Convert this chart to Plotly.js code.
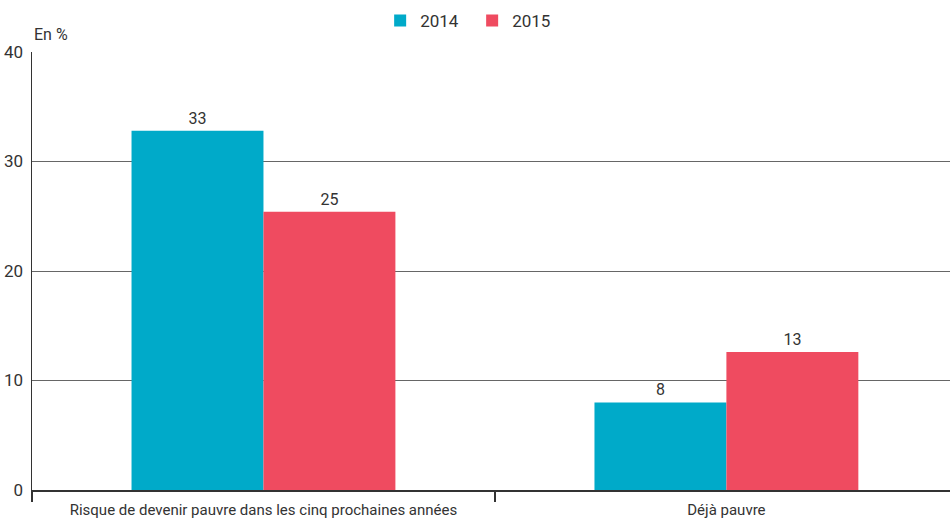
<!DOCTYPE html>
<html><head><meta charset="utf-8">
<script src="https://cdn.plot.ly/plotly-3.0.1.min.js"></script>
<style>html,body{margin:0;padding:0;background:#fff}#chart{width:950px;height:521px}</style>
</head><body><div id="chart"></div>
<script>
const categories = ["Risque de devenir pauvre dans les cinq prochaines années", "Déjà pauvre"];
const values2014 = [32.8, 8.0];
const values2015 = [25.4, 12.6];
const seriesNames = ["2014", "2015"];
const yTicks = [0, 10, 20, 30, 40];

const FONT = 'Roboto, "Liberation Sans", sans-serif';
const common = {
  type: 'bar', x: categories, texttemplate: '%{y:.0f}', textposition: 'outside',
  textfont: {family: FONT, size: 16, color: '#333'}, cliponaxis: false, hoverinfo: 'none'
};
const data = [
  Object.assign({}, common, {name: seriesNames[0], y: values2014, marker: {color: '#00AAC9'}}),
  Object.assign({}, common, {name: seriesNames[1], y: values2015, marker: {color: '#EF4B60'}})
];
const layout = {
  width: 950, height: 521,
  margin: {l: 32, r: 0, t: 52, b: 31},
  paper_bgcolor: '#fff', plot_bgcolor: '#fff',
  font: {family: FONT, size: 16, color: '#333'},
  barmode: 'group', bargap: 0.43, bargroupgap: 0,
  showlegend: true,
  legend: {orientation: 'h', x: 0.497, xanchor: 'center', xref: 'container', y: 0.96, yanchor: 'middle', yref: 'container',
           font: {family: FONT, size: 17, color: '#333'}, itemwidth: 30, entrywidth: 47, entrywidthmode: 'pixels',
           traceorder: 'normal'},
  xaxis: {
    range: [-0.5, 1.483],
    showgrid: false, showline: true, linecolor: '#333', linewidth: 1.5,
    ticks: 'outside', tickson: 'boundaries', ticklen: 10, tickcolor: '#333', tickwidth: 1.5,
    ticklabelstandoff: 5,
    tickfont: {family: FONT, size: 15, color: '#333'}, fixedrange: true
  },
  yaxis: {
    range: [0, 40], tickvals: yTicks, showgrid: true, gridcolor: '#666', gridwidth: 1,
    showline: true, linecolor: '#333', linewidth: 1.5, zeroline: false, ticks: '',
    ticklabelstandoff: 4,
    tickfont: {family: FONT, size: 17, color: '#333'}, fixedrange: true
  },
  annotations: [{
    text: 'En %', xref: 'paper', yref: 'paper', x: 0, y: 1, xanchor: 'left', yanchor: 'bottom',
    showarrow: false, font: {family: FONT, size: 16, color: '#333'}, yshift: 6
  }]
};
Plotly.newPlot('chart', data, layout, {displayModeBar: false, staticPlot: true});
</script></body></html>
